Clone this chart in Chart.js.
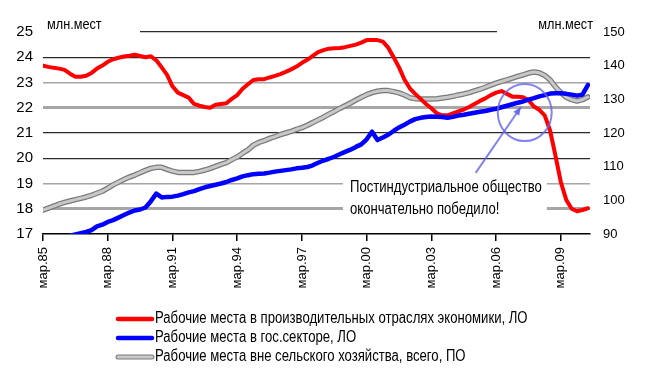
<!DOCTYPE html>
<html>
<head>
<meta charset="utf-8">
<script src="https://cdn.jsdelivr.net/npm/chart.js@4"></script>
<style>
  html, body { margin: 0; padding: 0; background: #fff; }
</style>
</head>
<body>
<canvas id="chart" width="650" height="385"></canvas>
<script>
const FONT = "'Liberation Sans', Arial, sans-serif";

const tickLabels = ["мар.85", "мар.88", "мар.91", "мар.94", "мар.97", "мар.00", "мар.03", "мар.06", "мар.09"];

const seriesNames = [
    "Рабочие места в производительных отраслях экономики, ЛО",
    "Рабочие места в гос.секторе, ЛО",
    "Рабочие места вне сельского хозяйства, всего, ПО"
];

// quarterly, мар.85 .. июн.10, млн. мест
const prodJobs = [
    23.67, 23.62, 23.58, 23.55, 23.50, 23.35, 23.23, 23.23, 23.27, 23.38,
    23.55, 23.67, 23.82, 23.92, 23.98, 24.03, 24.06, 24.10, 24.05, 24.00,
    24.04, 23.88, 23.60, 23.30, 22.85, 22.60, 22.50, 22.40, 22.15, 22.08,
    22.03, 22.00, 22.12, 22.15, 22.18, 22.35, 22.50, 22.75, 22.93, 23.10,
    23.13, 23.13, 23.20, 23.26, 23.33, 23.42, 23.52, 23.63, 23.78, 23.90,
    24.05, 24.20, 24.28, 24.34, 24.36, 24.37, 24.40, 24.45, 24.50, 24.58,
    24.68, 24.68, 24.68, 24.62, 24.38, 24.00, 23.60, 23.12, 22.77, 22.55,
    22.35, 22.15, 21.98, 21.78, 21.70, 21.70, 21.78, 21.86, 21.93, 22.03,
    22.15, 22.27, 22.37, 22.50, 22.60, 22.66, 22.55, 22.44, 22.44, 22.42,
    22.30, 22.05, 21.92, 21.70, 21.10, 20.10, 19.05, 18.35, 18.00, 17.90,
    17.95, 18.02
];

const govJobs = [
    16.60, 16.65, 16.72, 16.80, 16.86, 16.93, 16.98, 17.03, 17.08, 17.15,
    17.30, 17.37, 17.48, 17.55, 17.65, 17.75, 17.85, 17.93, 17.97, 18.05,
    18.30, 18.60, 18.45, 18.47, 18.48, 18.52, 18.58, 18.65, 18.70, 18.78,
    18.85, 18.90, 18.95, 19.00, 19.06, 19.14, 19.20, 19.28, 19.33, 19.37,
    19.39, 19.40, 19.43, 19.47, 19.50, 19.53, 19.56, 19.60, 19.62, 19.65,
    19.72, 19.82, 19.91, 19.98, 20.06, 20.16, 20.25, 20.34, 20.45, 20.55,
    20.75, 21.05, 20.72, 20.82, 20.93, 21.08, 21.22, 21.33, 21.45, 21.55,
    21.60, 21.63, 21.65, 21.64, 21.63, 21.60, 21.64, 21.69, 21.72, 21.76,
    21.80, 21.84, 21.87, 21.92, 21.96, 22.02, 22.08, 22.14, 22.20, 22.25,
    22.32, 22.38, 22.45, 22.50, 22.56, 22.57, 22.57, 22.55, 22.52, 22.48,
    22.52, 22.90
];

const totalJobs = [
    97.1, 97.7, 98.3, 98.9, 99.4, 99.8, 100.2, 100.6, 101.0, 101.5,
    102.1, 102.7, 103.6, 104.6, 105.4, 106.2, 106.9, 107.5, 108.2, 108.9,
    109.5, 109.8, 109.8, 109.2, 108.7, 108.3, 108.3, 108.3, 108.3, 108.6,
    109.0, 109.5, 110.1, 110.7, 111.2, 112.1, 112.9, 114.0, 115.0, 116.4,
    117.2, 117.7, 118.4, 118.9, 119.5, 120.0, 120.5, 121.1, 121.6, 122.3,
    123.1, 123.9, 124.7, 125.6, 126.4, 127.3, 128.1, 128.9, 129.8, 130.6,
    131.4, 132.0, 132.4, 132.6, 132.6, 132.3, 131.9, 131.3, 130.5, 130.2,
    130.1, 130.1, 130.1, 130.2, 130.4, 130.6, 130.9, 131.3, 131.6, 132.0,
    132.5, 133.0, 133.6, 134.2, 134.8, 135.3, 135.8, 136.3, 136.8, 137.3,
    137.8, 138.1, 137.9, 137.1, 135.8, 133.7, 132.0, 130.6, 129.9, 129.5,
    129.9, 130.7
];

const noteLines = ["Постиндустриальное общество", "окончательно победило!"];
const unitLabel = "млн.мест";

// gridline look per left-axis value
const gridStyle = {
    17: ["rgba(0,0,0,0)", 1],
    18: ["#a6a6a6", 3],
    19: ["#a6a6a6", 1.5],
    20: ["#2a2a2a", 1.2],
    21: ["#2a2a2a", 1.2],
    22: ["#a6a6a6", 3],
    23: ["#a6a6a6", 1.5],
    24: ["#2a2a2a", 1.2],
    25: ["#2a2a2a", 1.2]
};

const lineColors = ["#ff0000", "#0000ff", "#c8c8c8"];

const toPoints = arr => arr.map((v, i) => ({ x: i, y: v }));

// the original uses a narrow face; squeeze the regular one
function narrowText(ctx, text, x, y, size, align) {
    ctx.save();
    ctx.translate(x, y);
    ctx.scale(0.82, 1);
    ctx.font = size + "px " + FONT;
    ctx.textAlign = align;
    ctx.textBaseline = "middle";
    ctx.fillStyle = "#000";
    ctx.fillText(text, 0, 0);
    ctx.restore();
}

const decor = {
    id: "decor",
    beforeDatasetsDraw(chart) {
        const { ctx, chartArea: a, scales: { x, y } } = chart;
        ctx.save();
        ctx.fillStyle = "#fff";
        // hide top gridline behind unit captions
        ctx.fillRect(a.left, a.top - 8, 97, 16);
        ctx.fillRect(497, a.top - 8, a.right - 497 + 4, 16);
        // box under the note
        const bx1 = x.getPixelForValue(55.6), bx2 = x.getPixelForValue(93.4);
        const by1 = y.getPixelForValue(19.46), by2 = y.getPixelForValue(17.48);
        ctx.fillRect(bx1, by1, bx2 - bx1, by2 - by1);
        ctx.restore();
    },
    afterDatasetsDraw(chart) {
        const { ctx, chartArea: a, scales: { x, y } } = chart;
        narrowText(ctx, unitLabel, a.left + 4, a.top - 7, 15.5, "left");
        narrowText(ctx, unitLabel, a.right + 3, a.top - 7, 15.5, "right");

        // note text
        const tx = x.getPixelForValue(56.9);
        narrowText(ctx, noteLines[0], tx, y.getPixelForValue(18.82), 16, "left");
        narrowText(ctx, noteLines[1], tx, y.getPixelForValue(17.95), 16, "left");

        ctx.save();
        // circle
        const cx = x.getPixelForValue(89.3), cy = y.getPixelForValue(21.81);
        const rx = x.getPixelForValue(89.3 + 5.0) - cx;
        const ry = cy - y.getPixelForValue(21.81 + 1.13);
        ctx.strokeStyle = "rgba(100,100,235,0.8)";
        ctx.lineWidth = 2;
        ctx.beginPath();
        ctx.ellipse(cx, cy, rx, ry, 0, 0, Math.PI * 2);
        ctx.stroke();

        // arrow
        const ax1 = x.getPixelForValue(80.2), ay1 = y.getPixelForValue(19.42);
        const ax2 = x.getPixelForValue(88.6), ay2 = y.getPixelForValue(22.03);
        ctx.beginPath();
        ctx.moveTo(ax1, ay1);
        ctx.lineTo(ax2, ay2);
        ctx.stroke();
        const ang = Math.atan2(ay2 - ay1, ax2 - ax1);
        ctx.fillStyle = "rgba(100,100,235,0.9)";
        ctx.beginPath();
        ctx.moveTo(ax2, ay2);
        ctx.lineTo(ax2 - 9 * Math.cos(ang - 0.4), ay2 - 9 * Math.sin(ang - 0.4));
        ctx.lineTo(ax2 - 9 * Math.cos(ang + 0.4), ay2 - 9 * Math.sin(ang + 0.4));
        ctx.closePath();
        ctx.fill();
        ctx.restore();
    },
    afterDraw(chart) {
        const { ctx } = chart;
        ctx.save();
        ctx.lineCap = "round";
        seriesNames.forEach((name, i) => {
            const ly = 319 + i * 19;
            if (i === 2) {
                ctx.strokeStyle = "#7a7a7a";
                ctx.lineWidth = 5;
                ctx.beginPath(); ctx.moveTo(118, ly); ctx.lineTo(152, ly); ctx.stroke();
            }
            ctx.strokeStyle = lineColors[i];
            ctx.lineWidth = i === 2 ? 3 : 4.5;
            ctx.beginPath(); ctx.moveTo(118, ly); ctx.lineTo(152, ly); ctx.stroke();
            narrowText(ctx, name, 155, ly, 16, "left");
        });
        ctx.restore();
    }
};

new Chart(document.getElementById("chart"), {
    type: "line",
    data: {
        datasets: [
            { label: seriesNames[1], data: toPoints(govJobs), yAxisID: "y", borderColor: lineColors[1], borderWidth: 4.5, order: 0 },
            { label: seriesNames[0], data: toPoints(prodJobs), yAxisID: "y", borderColor: lineColors[0], borderWidth: 4, order: 1 },
            { label: seriesNames[2], data: toPoints(totalJobs), yAxisID: "y1", borderColor: lineColors[2], borderWidth: 3, order: 2 },
            { label: "outline", data: toPoints(totalJobs), yAxisID: "y1", borderColor: "#7a7a7a", borderWidth: 5.5, order: 3 }
        ]
    },
    options: {
        responsive: false,
        animation: false,
        elements: {
            point: { radius: 0 },
            line: { tension: 0, borderJoinStyle: "round", borderCapStyle: "round" }
        },
        layout: { padding: { top: 32 } },
        plugins: {
            legend: { display: false },
            tooltip: { enabled: false }
        },
        scales: {
            x: {
                type: "linear",
                min: 0,
                max: 101.4,
                ticks: {
                    stepSize: 12,
                    includeBounds: false,
                    autoSkip: false,
                    maxRotation: 90,
                    minRotation: 90,
                    padding: 6,
                    color: "#000",
                    font: { family: FONT, size: 13 },
                    callback: v => tickLabels[v / 12]
                },
                grid: { drawOnChartArea: false, drawTicks: true, tickLength: 7, color: "#000", lineWidth: 1.5 },
                border: { color: "#000", width: 1.5 },
                afterFit: s => { s.height = 151; }
            },
            y: {
                position: "left",
                min: 17,
                max: 25,
                ticks: { stepSize: 1, padding: 10, color: "#000", font: { family: FONT, size: 15 } },
                grid: {
                    drawTicks: false,
                    color: c => (gridStyle[c.tick.value] || ["#000"])[0],
                    lineWidth: c => (gridStyle[c.tick.value] || [0, 1])[1]
                },
                border: { display: false },
                afterFit: s => { s.width = 43; }
            },
            y1: {
                position: "right",
                min: 90,
                max: 150,
                ticks: { stepSize: 10, padding: 13, color: "#000", font: { family: FONT, size: 13 } },
                grid: { drawOnChartArea: false, drawTicks: false },
                border: { display: false },
                afterFit: s => { s.width = 60; }
            }
        }
    },
    plugins: [decor]
});
</script>
</body>
</html>
